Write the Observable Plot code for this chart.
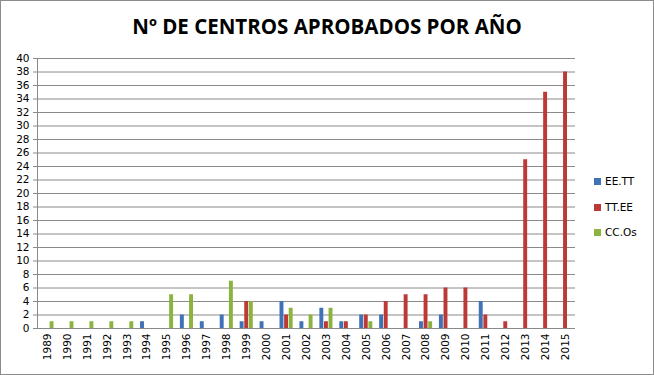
<!DOCTYPE html>
<html><head><meta charset="utf-8">
<script src="https://cdn.jsdelivr.net/npm/d3@7"></script>
<script src="https://cdn.jsdelivr.net/npm/@observablehq/plot@0.6"></script>
<style>
html,body{margin:0;padding:0;background:#fff;}
#wrap{position:relative;width:652px;height:373px;border:1px solid #8c8c8c;background:#fff;overflow:hidden;font-family:"DejaVu Sans",sans-serif;}
#title{position:absolute;left:0;top:11px;width:652px;text-align:center;font-family:"Open Sans",sans-serif;font-weight:700;font-size:20.5px;color:#000;}
#chart{position:absolute;left:-1px;top:44px;}
#legend{position:absolute;left:593px;top:174px;font-size:10.5px;color:#000;}
#legend div{height:25.5px;display:flex;align-items:flex-start;}
#legend span.sw{display:inline-block;width:7px;height:7px;margin-right:4px;margin-top:3px;}
</style></head>
<body><div id="wrap"><div id="title">Nº DE CENTROS APROBADOS POR AÑO</div><div id="chart"></div><div id="legend"></div></div>
<script>
const years = ["1989","1990","1991","1992","1993","1994","1995","1996","1997","1998","1999","2000","2001","2002","2003","2004","2005","2006","2007","2008","2009","2010","2011","2012","2013","2014","2015"];
const seriesNames = ["EE.TT","TT.EE","CC.Os"];
const eett = [0,0,0,0,0,1,0,2,1,2,1,1,4,1,3,1,2,2,0,1,2,0,4,0,0,0,0];
const ttee = [0,0,0,0,0,0,0,0,0,0,4,0,2,0,1,1,2,4,5,5,6,6,2,1,25,35,38];
const ccos = [1,1,1,1,1,0,5,5,0,7,4,0,3,2,3,0,1,0,0,1,0,0,0,0,0,0,0];
const yTicks = d3.range(0, 41, 2);
const colors = ["#3f72b6","#bb3a36","#8db33f"];

const seriesData = [eett, ttee, ccos];
const offsets = [-4.6, 0, 4.6];
const marks = [
  Plot.gridY(yTicks, {stroke: "#8a8a8a", strokeOpacity: 1, strokeWidth: 1}),
];
seriesData.forEach((vals, i) => {
  const data = years.map((y, j) => ({year: y, value: vals[j]}));
  marks.push(Plot.barY(data, {x: "year", y: "value", fill: colors[i], dx: offsets[i], insetLeft: 8, insetRight: 8}));
});
marks.push(Plot.ruleY([0], {stroke: "#8a8a8a"}));
marks.push(Plot.frame({anchor: "left", stroke: "#8a8a8a"}));
marks.push(Plot.axisY(yTicks, {tickSize: 4, tickPadding: 4, stroke: "#8a8a8a", fill: "#000", fontSize: 10.5, label: null}));
marks.push(Plot.axisX({tickRotate: -90, tickSize: 0, tickPadding: 5, fill: "#000", fontSize: 10.5, label: null}));

const plot = Plot.plot({
  width: 592, height: 328,
  marginLeft: 37, marginRight: 17, marginTop: 13, marginBottom: 45,
  style: {fontFamily: "DejaVu Sans, sans-serif", background: "#fff"},
  x: {domain: years, padding: 0, paddingInner: 0, paddingOuter: 0, round: false},
  y: {domain: [0, 40]},
  marks
});
document.getElementById("chart").appendChild(plot);

const lg = document.getElementById("legend");
seriesNames.forEach((n, i) => {
  const d = document.createElement("div");
  d.innerHTML = `<span class="sw" style="background:${colors[i]}"></span><span>${n}</span>`;
  lg.appendChild(d);
});
</script></body></html>
